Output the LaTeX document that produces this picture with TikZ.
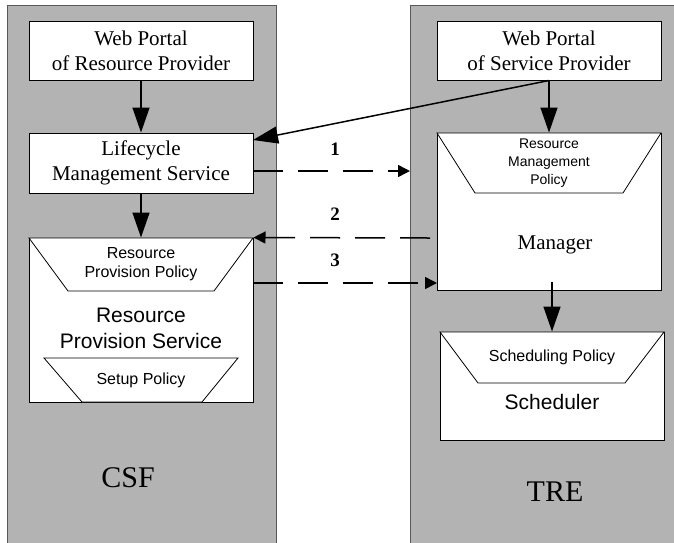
\documentclass[tikz,border=0pt]{standalone}
\usepackage{fontspec}
\setmainfont{Liberation Serif}
\setsansfont{Liberation Sans}
\usetikzlibrary{arrows.meta,calc}
\definecolor{panelgray}{RGB}{179,179,179}
\begin{document}
\begin{tikzpicture}[x=1pt,y=-1pt,
  panel/.style={fill=panelgray, draw=black!65, line width=1pt},
  box/.style={draw=black, fill=white, line width=1pt, minimum width=224pt, inner sep=0pt, align=center, font=\fontsize{21}{25}\selectfont},
  trap/.style={draw=black, fill=white, line width=0.8pt},
  ptext/.style={font=\sffamily\fontsize{16}{19}\selectfont, align=center, inner sep=0pt},
  stext/.style={font=\sffamily\fontsize{21}{26}\selectfont, align=center, inner sep=0pt},
  sarrow/.style={line width=1.5pt, -{Triangle[length=25pt,width=17pt]}},
  darrow/.style={line width=1.5pt, dash pattern=on 30pt off 15pt, -{Triangle[length=12pt,width=12pt]}},
  num/.style={font=\bfseries\fontsize{19}{22}\selectfont},
  sys/.style={font=\fontsize{30}{34}\selectfont}
]
\useasboundingbox (0,0) rectangle (674,542);
\clip (0,0) rectangle (674,542);
% panels
\path[panel] (7,5) rectangle (276,560);
\path[panel] (410,5) rectangle (690,560);
\node[sys] (csf) at (128,478) {CSF};
\node[sys] (tre) at (555,492) {TRE};
% left column
\node[box, minimum height=59pt] (wpr) at (141,50.5) {Web Portal\\of Resource Provider};
\node[box, minimum height=60pt] (lms) at (141,163) {Lifecycle\\Management Service};
\node[box, minimum height=164pt] (rps) at (141,320) {};
\path[trap] (29,238) -- (253,238) -- (214,291) -- (68,291) -- cycle;
\node[ptext] (rpp) at (141,264) {Resource\\Provision Policy};
\node[stext] (rpst) at (141,328) {Resource\\Provision Service};
\path[trap] (44,358) -- (238,358) -- (202,402) -- (82,402) -- cycle;
\node[ptext] (sup) at (141,380) {Setup Policy};
% right column
\node[box, minimum height=59pt] (wps) at (549,50.5) {Web Portal\\of Service Provider};
\node[box, minimum height=157pt] (mgr) at (549,211.5) {};
\path[trap] (437,133) -- (661,133) -- (623,193) -- (475,193) -- cycle;
\node[ptext, font=\sffamily\fontsize{14}{18}\selectfont] (rmp) at (549,163) {Resource\\Management\\Policy};
\node[font=\fontsize{21}{25}\selectfont] (mgrt) at (555,245) {Manager};
\node[box, minimum height=108pt] (sch) at (552,386) {};
\path[trap] (440,332) -- (664,332) -- (625,383) -- (478,383) -- cycle;
\node[ptext] (schp) at (552,357) {Scheduling Policy};
\node[stext] (scht) at (552,402) {Scheduler};
% coordinates
\coordinate (a1s) at (253,171);
\coordinate (a1e) at (410,171);
\coordinate (a2s) at (430,238);
\coordinate (a3s) at (253,283);
\coordinate (a3e) at (437,283);
\coordinate (mgrout) at (552,282);
\coordinate (lmsin) at (253,140);
% solid arrows
\draw[sarrow] (wpr.south) -- (lms.north);
\draw[sarrow] (lms.south) -- (rps.north);
\draw[sarrow] (wps.south) -- (wps.south |- mgr.north);
\draw[sarrow] (wps.south) -- (lmsin);
\draw[sarrow] (mgrout) -- (sch.north);
% dashed arrows
\draw[darrow] (a1s) -- (a1e);
\draw[darrow] (a2s) -- (rps.north east);
\draw[darrow] (a3s) -- (a3e);
\node[num] (n1) at (335,149) {1};
\node[num] (n2) at (335,214) {2};
\node[num] (n3) at (335,260) {3};
\end{tikzpicture}
\end{document}
